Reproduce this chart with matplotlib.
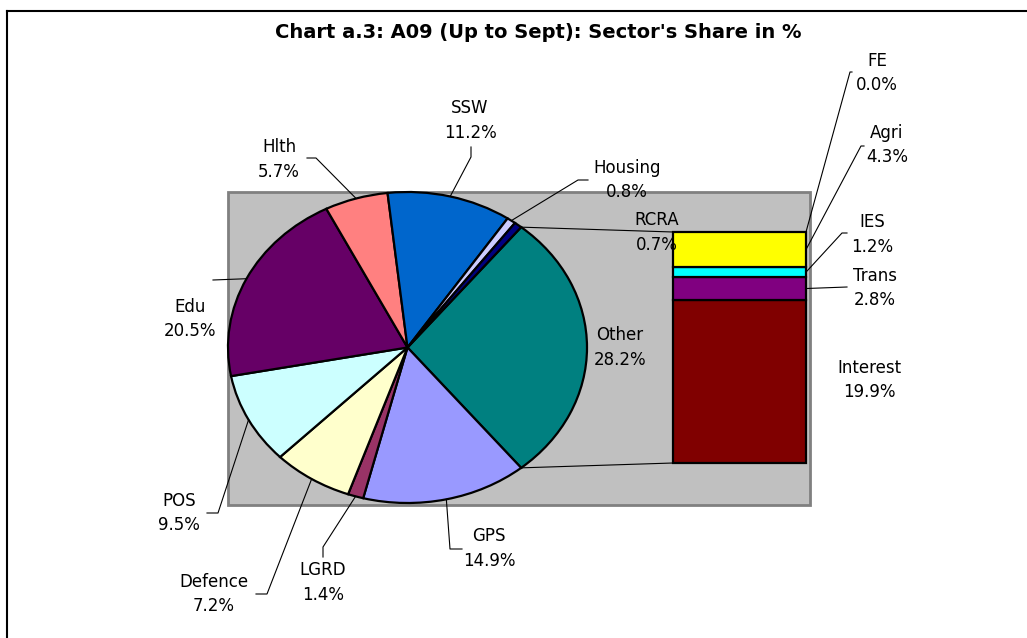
import numpy as np
import matplotlib
matplotlib.use("Agg")
import matplotlib.pyplot as plt
from matplotlib.patches import Rectangle

W, H = 1027, 638

# pie part (clockwise, starting with the "Other" slice)
pie_labels = ['Other', 'GPS', 'LGRD', 'Defence', 'POS', 'Edu', 'Hlth', 'SSW', 'Housing', 'RCRA']
pie_values = [28.2, 14.9, 1.4, 7.2, 9.5, 20.5, 5.7, 11.2, 0.8, 0.7]
pie_colors = ['#008080', '#9999FF', '#993366', '#FFFFCC', '#CCFFFF',
              '#660066', '#FF8080', '#0066CC', '#CCCCFF', '#000080']

# bar part ("Other" split up), bottom to top
bar_labels = ['Interest', 'Trans', 'IES', 'Agri', 'FE']
bar_values = [19.9, 2.8, 1.2, 4.3, 0.0]
bar_colors = ['#800000', '#800080', '#00FFFF', '#FFFF00', '#FFFFFF']

title = "Chart a.3: A09 (Up to Sept): Sector's Share in %"

plt.rcParams['font.family'] = ['DejaVu Sans']

fig = plt.figure(figsize=(W / 100, H / 100), dpi=100)


def px_axes(x0, y0, x1, y1, z):
    return fig.add_axes([x0 / W, (H - y1) / H, (x1 - x0) / W, (y1 - y0) / H], zorder=z)


# background + grey plot area
bg = fig.add_axes([0, 0, 1, 1], zorder=0)
bg.set_xlim(0, W)
bg.set_ylim(H, 0)
bg.axis('off')
bg.add_patch(Rectangle((228, 192), 582, 313, facecolor='#C0C0C0', edgecolor='#808080', lw=2))

# pie (stretched into an ellipse like the original)
ax_pie = px_axes(228, 192, 587, 503, 1)
start = 180 * pie_values[0] / sum(pie_values)
wedges, _ = ax_pie.pie(pie_values, colors=pie_colors, startangle=start, counterclock=False,
                       radius=1, wedgeprops=dict(edgecolor='black', linewidth=1.6))
for w in wedges:
    w.set_clip_on(False)
ax_pie.set_aspect('auto')
ax_pie.set_xlim(-1, 1)
ax_pie.set_ylim(-1, 1)
ax_pie.axis('off')

# stacked bar
ax_bar = px_axes(673, 232, 806, 463, 1)
bottom = 0
bar_mid = {}
for lab, v, c in zip(bar_labels, bar_values, bar_colors):
    if v > 0:
        b = ax_bar.bar(0, v, width=1, bottom=bottom, color=c, edgecolor='black', linewidth=1.6)
        b[0].set_clip_on(False)
    bar_mid[lab] = bottom + v / 2
    bottom += v
ax_bar.set_xlim(-0.5, 0.5)
ax_bar.set_ylim(0, bottom)
ax_bar.axis('off')

# overlay for text, leaders and border
ov = fig.add_axes([0, 0, 1, 1], zorder=3)
ov.set_xlim(0, W)
ov.set_ylim(H, 0)
ov.axis('off')
ov.patch.set_alpha(0)


def to_px(ax, x, y):
    return ov.transData.inverted().transform(ax.transData.transform((x, y)))


def pie_point(angle_deg):
    a = np.deg2rad(angle_deg)
    return to_px(ax_pie, np.cos(a), np.sin(a))


# mid angles of wedges
mid = {}
for lab, w in zip(pie_labels, wedges):
    mid[lab] = (w.theta1 + w.theta2) / 2

# border of chart
ov.plot([7, W], [11, 11], color='black', lw=1.5)
ov.plot([7, 7], [11, H], color='black', lw=1.5)

ov.text(538, 32, title, ha='center', va='center', fontsize=14, fontweight='bold')

# label positions (pixel coords) and leader elbows
label_pos = {
    'SSW': (470, 120.5), 'Hlth': (279, 159.5), 'Housing': (627, 180),
    'RCRA': (657, 232.5), 'Other': (620, 347.5), 'Edu': (190, 319),
    'POS': (179, 513), 'Defence': (214, 594), 'LGRD': (323, 582.5),
    'GPS': (489, 548.5),
}
pie_leaders = {
    'Hlth': [(307, 158), (316, 158)],
    'SSW': [(471, 147), (471, 157)],
    'Housing': [(588, 180), (578, 180)],
    'Edu': [(213, 280)],
    'POS': [(207, 513), (218, 513)],
    'Defence': [(256, 594), (267, 594)],
    'LGRD': [(323, 557), (323, 547)],
    'GPS': [(462, 549), (450, 549)],
}
for lab, v in zip(pie_labels, pie_values):
    x, y = label_pos[lab]
    ov.text(x, y, f'{lab}\n{v:.1f}%', ha='center', va='center', fontsize=12,
            linespacing=1.45, multialignment='center')
    if lab in pie_leaders:
        pts = pie_leaders[lab] + [tuple(pie_point(mid[lab]))]
        xs, ys = zip(*pts)
        ov.plot(xs, ys, color='black', lw=0.8)

# connector lines pie -> bar
p_top = pie_point(wedges[0].theta2)
p_bot = pie_point(wedges[0].theta1)
b_top = to_px(ax_bar, -0.5, bottom)
b_bot = to_px(ax_bar, -0.5, 0)
ov.plot([p_top[0], b_top[0]], [p_top[1], b_top[1]], color='black', lw=0.8)
ov.plot([p_bot[0], b_bot[0]], [p_bot[1], b_bot[1]], color='black', lw=0.8)

bar_label_pos = {
    'FE': (877, 73), 'Agri': (887, 145), 'IES': (872, 234.5),
    'Trans': (875, 288), 'Interest': (869, 380),
}
bar_leaders = {
    'FE': [(852, 72), (850, 72)],
    'Agri': [(864, 146), (861, 146)],
    'IES': [(847, 233), (842, 233)],
    'Trans': [(847, 287)],
}
for lab, v in zip(bar_labels, bar_values):
    x, y = bar_label_pos[lab]
    ov.text(x, y, f'{lab}\n{v:.1f}%', ha='center', va='center', fontsize=12,
            linespacing=1.45, multialignment='center')
    if lab in bar_leaders:
        anchor = tuple(to_px(ax_bar, 0.5, bar_mid[lab]))
        pts = bar_leaders[lab] + [anchor]
        xs, ys = zip(*pts)
        ov.plot(xs, ys, color='black', lw=0.8)

fig.savefig('out.png', dpi=100, facecolor='white')
